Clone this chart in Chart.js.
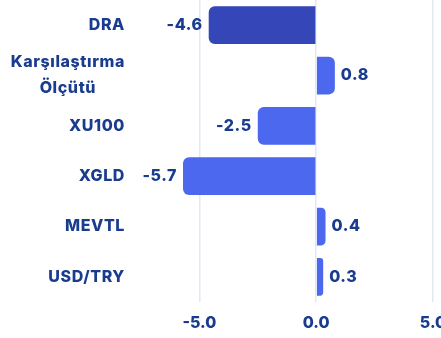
<!DOCTYPE html>
<html>
<head>
<meta charset="utf-8">
<script src="https://cdn.jsdelivr.net/npm/chart.js@4"></script>
<style>
  html, body { margin: 0; padding: 0; background: #fff; overflow: hidden; }
  #wrap { width: 460px; height: 338px; }
</style>
</head>
<body>
<div id="wrap"><canvas id="chart" width="460" height="338"></canvas></div>
<script>
// Returns by instrument
const categories = ['DRA', ['Karşılaştırma', 'Ölçütü'], 'XU100', 'XGLD', 'MEVTL', 'USD/TRY'];
const returns = [-4.6, 0.8, -2.5, -5.7, 0.4, 0.3];
const barColors = ['#3446b8', '#4b68ee', '#4b68ee', '#4b68ee', '#4b68ee', '#4b68ee'];
const xTicks = [-5, 0, 5];

const textColor = '#1a3c8f';
const fontFamily = 'Inter, "Noto Sans", sans-serif';

// Draws y labels (multi-line centered as a block) and value labels at bar ends
const labelPlugin = {
    id: 'labels',
    afterDraw(chart) {
        const ctx = chart.ctx;
        const yScale = chart.scales.y;
        ctx.save();
        ctx.fillStyle = textColor;
        ctx.font = '800 16px ' + fontFamily;
        ctx.letterSpacing = '0.6px';
        ctx.textBaseline = 'middle';

        categories.forEach((cat, i) => {
            const y = yScale.getPixelForTick(i);
            const lines = Array.isArray(cat) ? cat : [cat];
            const widths = lines.map(l => ctx.measureText(l).width);
            const maxW = Math.max(...widths);
            const right = 125;
            const lineH = 26;
            lines.forEach((line, j) => {
                const ly = y + (j - (lines.length - 1) / 2) * lineH;
                ctx.textAlign = 'center';
                ctx.fillText(line, right - maxW / 2, ly);
            });
        });

        const meta = chart.getDatasetMeta(0);
        meta.data.forEach((bar, i) => {
            const v = returns[i];
            if (v < 0) {
                ctx.textAlign = 'right';
                ctx.fillText(v.toFixed(1), bar.x - 6, bar.y);
            } else {
                ctx.textAlign = 'left';
                ctx.fillText(v.toFixed(1), bar.x + 6, bar.y);
            }
        });
        ctx.restore();
    }
};

new Chart(document.getElementById('chart').getContext('2d'), {
    type: 'bar',
    data: {
        labels: categories,
        datasets: [{
            data: returns,
            backgroundColor: barColors,
            borderRadius: 6,
            borderSkipped: 'start',
            barPercentage: 0.75,
            categoryPercentage: 1,
        }],
    },
    options: {
        indexAxis: 'y',
        responsive: false,
        animation: false,
        layout: { padding: { top: 0, bottom: 0, left: 0, right: 27 } },
        plugins: {
            legend: { display: false },
            tooltip: { enabled: false },
        },
        scales: {
            x: {
                min: -6,
                max: 5,
                afterBuildTicks: scale => {
                    scale.ticks = xTicks.map(v => ({ value: v }));
                },
                afterFit: scale => { scale.height = 36; },
                grid: { color: '#e3e8f6', lineWidth: 1.5, drawTicks: false },
                border: { display: false },
                ticks: {
                    padding: 12,
                    color: textColor,
                    font: { family: fontFamily, size: 16, weight: '800' },
                    callback: v => v.toFixed(1),
                },
            },
            y: {
                grid: { display: false },
                border: { display: false },
                afterFit: scale => { scale.width = 176; },
                ticks: { display: false },
            },
        },
    },
    plugins: [labelPlugin],
});
</script>
</body>
</html>
